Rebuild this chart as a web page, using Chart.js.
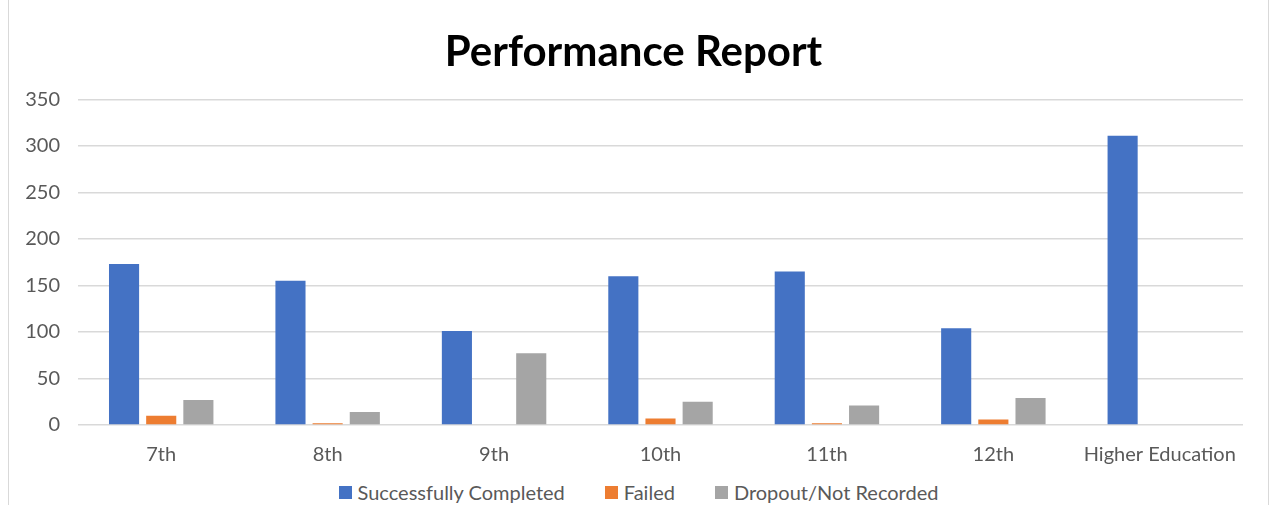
<!DOCTYPE html>
<html>
<head>
<meta charset="utf-8">
<script src="https://cdn.jsdelivr.net/npm/chart.js@4.4.0/dist/chart.umd.min.js"></script>
<style>
  html, body { margin: 0; padding: 0; background: #fff; }
  #wrap { position: relative; height: 505px; box-sizing: border-box; margin-left: 8px; width: 1261px;
          border-left: 1px solid #d9d9d9; border-right: 1px solid #d9d9d9; }
  #plot { position: relative; height: 470px; }
  #legend { position: absolute; left: 0; right: 0; top: 480px; display: flex; justify-content: center;
            gap: 40px; font: 20px/24px Lato, "Open Sans", sans-serif; color: #595959; }
  #legend span.item { display: flex; align-items: center; }
  #legend i { display: inline-block; width: 13px; height: 13px; margin-right: 6px; }
</style>
</head>
<body>
<div id="wrap">
  <div id="plot"><canvas id="chart"></canvas></div>
  <div id="legend"></div>
</div>
<script>
const grades = ["7th", "8th", "9th", "10th", "11th", "12th", "Higher Education"];
const completed = [173, 155, 101, 160, 165, 104, 311];
const failed = [10, 2, 0, 7, 2, 6, 0];
const dropout = [27, 14, 77, 25, 21, 29, 0];
const yTicks = [0, 50, 100, 150, 200, 250, 300, 350];

const font = "Lato, 'Open Sans', sans-serif";

const chart = new Chart(document.getElementById("chart"), {
  type: "bar",
  data: {
    labels: grades,
    datasets: [
      { label: "Successfully Completed", data: completed, backgroundColor: "#4472C4" },
      { label: "Failed", data: failed, backgroundColor: "#ED7D31" },
      { label: "Dropout/Not Recorded", data: dropout, backgroundColor: "#A5A5A5" },
    ],
  },
  options: {
    responsive: true,
    maintainAspectRatio: false,
    animation: false,
    datasets: { bar: { categoryPercentage: 0.67, barPercentage: 0.81 } },
    // near-equal side padding keeps the title centred on the card
    layout: { padding: { left: 15, right: 25, top: 20, bottom: 1 } },
    plugins: {
      title: {
        display: true,
        text: "Performance Report",
        color: "#000",
        font: { family: font, size: 42, weight: "bold" },
        padding: { top: 7, bottom: 22 },
      },
      legend: { display: false },
      tooltip: { enabled: false },
    },
    scales: {
      x: {
        grid: { display: false, drawTicks: false },
        border: { display: false },
        ticks: { color: "#595959", font: { family: font, size: 20 }, padding: 18 },
        afterFit: (scale) => { scale.height = 44; },
      },
      y: {
        min: 0,
        max: 350,
        afterBuildTicks: (axis) => { axis.ticks = yTicks.map((v) => ({ value: v })); },
        grid: { color: "#d9d9d9", lineWidth: 1.5, drawTicks: false },
        border: { display: false },
        ticks: { color: "#595959", font: { family: font, size: 20 }, padding: 18 },
        afterFit: (scale) => { scale.width = 54; },
      },
    },
  },
});

// html legend, the canvas one can't space items this wide without extra height
const legendEl = document.getElementById("legend");
chart.data.datasets.forEach((ds) => {
  const item = document.createElement("span");
  item.className = "item";
  const box = document.createElement("i");
  box.style.background = ds.backgroundColor;
  item.appendChild(box);
  item.appendChild(document.createTextNode(ds.label));
  legendEl.appendChild(item);
});
</script>
</body>
</html>
